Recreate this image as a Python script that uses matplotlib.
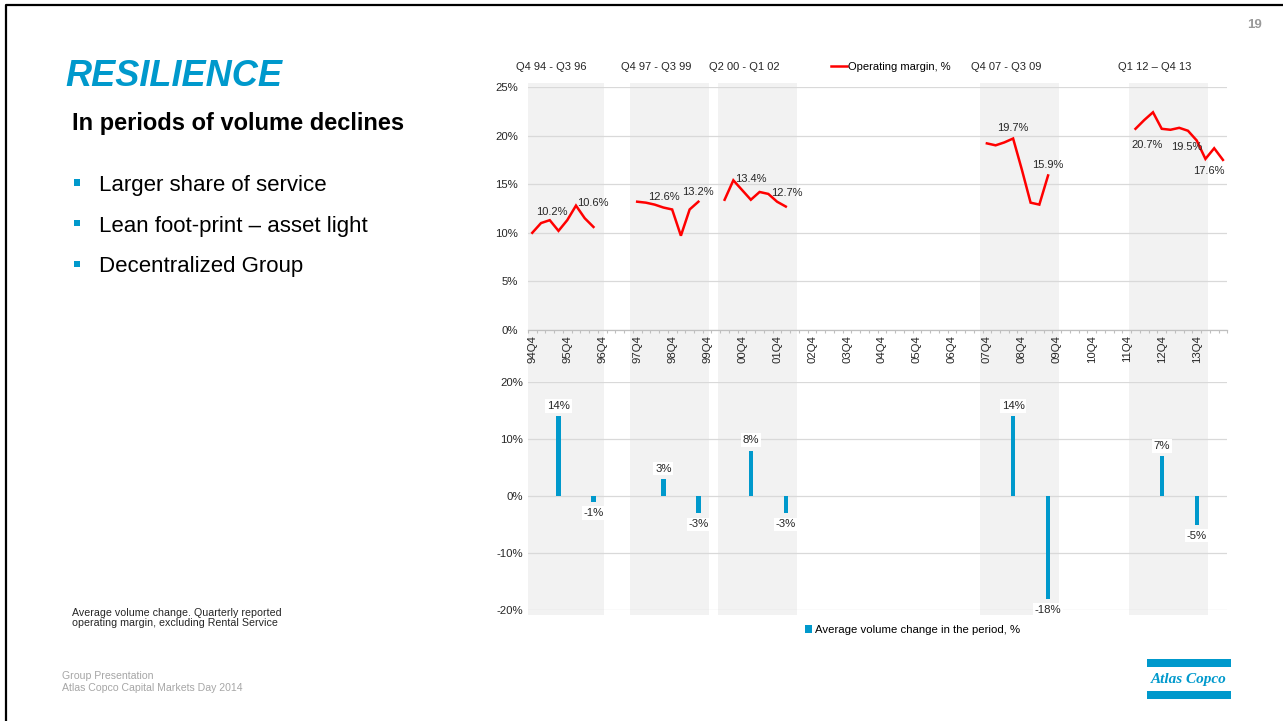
import numpy as np
import matplotlib
matplotlib.use("Agg")
import matplotlib.pyplot as plt
import matplotlib.transforms as mtransforms
from matplotlib.patches import Rectangle
from matplotlib.lines import Line2D

plt.rcParams["font.family"] = ["Liberation Sans", "DejaVu Sans"]

BLUE = "#0099CC"
RED = "#FF0000"
GRID = "#D9D9D9"
SHADE = "#F2F2F2"
TEXT = "#262626"

# quarters on the category axis: 94Q4 ... 14Q3
years = ["94", "95", "96", "97", "98", "99", "00", "01", "02", "03",
         "04", "05", "06", "07", "08", "09", "10", "11", "12", "13", "14"]
quarters = [f"{y}Q{q}" for y in years for q in (1, 2, 3, 4)][3:-1]

# periods of volume decline
periods = ["Q4 94 - Q3 96", "Q4 97 - Q3 99", "Q2 00 - Q1 02", "Q4 07 - Q3 09", "Q1 12 \u2013 Q4 13"]
period_start = ["94Q4", "97Q4", "00Q2", "07Q4", "12Q1"]

# quarterly operating margin, % (each series starts at its period start)
margin_94_96 = [10.0, 11.0, 11.3, 10.2, 11.3, 12.8, 11.5, 10.6]
margin_97_99 = [13.2, 13.1, 12.9, 12.6, 12.4, 9.7, 12.4, 13.2]
margin_00_02 = [13.4, 15.4, 14.4, 13.4, 14.2, 14.0, 13.2, 12.7]
margin_07_09 = [19.2, 19.0, 19.3, 19.7, 16.5, 13.1, 12.9, 15.9]
margin_12_14 = [20.7, 21.6, 22.4, 20.7, 20.6, 20.8, 20.5, 19.5, 17.6, 18.7, 17.5]
margins = [margin_94_96, margin_97_99, margin_00_02, margin_07_09, margin_12_14]

# labelled margin points: (series, point, dx px, dy px)
margin_labels = [(0, 3, -7, 19), (0, 7, -1, 24),
                 (1, 3, 0, 11), (1, 7, 0, 10),
                 (2, 3, 0, 21), (2, 7, 1, 14),
                 (3, 3, 0, 11), (3, 7, 0, 10),
                 (4, 0, 12, -16), (4, 7, -10, -7), (4, 8, 3, -12)]

# average volume change in the period, %
vol_quarters = ["95Q3", "96Q3", "98Q3", "99Q3", "01Q1", "02Q1", "08Q3", "09Q3", "12Q4", "13Q4"]
vol_values = [14, -1, 3, -3, 8, -3, 14, -18, 7, -5]

W, H = 1283, 721


def fx(px):
    return px / W


def fy(py):
    return 1 - py / H


fig = plt.figure(figsize=(W / 100, H / 100), dpi=100)

x0, x1 = 527.9, 1227.3
aw = (x1 - x0) / W
xlim = (-0.5, len(quarters) - 0.5)

# background shading across both charts
ax_bg = fig.add_axes([fx(x0), fy(615), aw, (615 - 83) / H], zorder=0)
ax_bg.set_xlim(*xlim)
ax_bg.axis("off")
for s in period_start:
    i = quarters.index(s)
    ax_bg.axvspan(i - 0.8, i + 8.25, color=SHADE, lw=0)

# operating margin chart
ax = fig.add_axes([fx(x0), fy(330), aw, 243 / H], zorder=1)
ax.patch.set_alpha(0)
ax.set_xlim(*xlim)
ax.set_ylim(0, 25)
ax.set_yticks(np.arange(0, 26, 5))
ax.set_yticklabels([f"{v}%" for v in range(0, 26, 5)])
ax.grid(axis="y", color=GRID, lw=0.9)
ax.set_axisbelow(True)
for sp in ["top", "right", "left"]:
    ax.spines[sp].set_visible(False)
ax.spines["bottom"].set_color("#BFBFBF")
ax.spines["bottom"].set_linewidth(0.9)
ax.set_xticks(range(0, len(quarters), 4))
ax.set_xticklabels(quarters[0::4], rotation=90)
ax.set_xticks(np.arange(-0.5, len(quarters), 1), minor=True)
ax.tick_params(axis="x", which="major", length=0, pad=3.6, labelsize=8.2, labelcolor=TEXT)
ax.tick_params(axis="x", which="minor", length=2, color="#BFBFBF", width=0.8)
ax.tick_params(axis="y", length=0, pad=7, labelsize=8.2, labelcolor=TEXT)

for k, (s, vals) in enumerate(zip(period_start, margins)):
    xs = quarters.index(s) + np.arange(len(vals))
    ax.plot(xs, vals, color=RED, lw=1.8, solid_joinstyle="miter",
            label="Operating margin, %" if k == 0 else None)

for k, p, dx, dy in margin_labels:
    xs = quarters.index(period_start[k]) + p
    ax.annotate(f"{margins[k][p]:.1f}%", (xs, margins[k][p]),
                xytext=(dx * 0.72, dy * 0.72), textcoords="offset points",
                ha="center", va="center", fontsize=8, color=TEXT)

trans = mtransforms.blended_transform_factory(ax.transData, fig.transFigure)
for name, s in zip(periods, period_start):
    ax.text(quarters.index(s) + 2.2, fy(67), name, transform=trans,
            ha="center", va="center", fontsize=8, color=TEXT)

ax.legend(loc="center left", bbox_to_anchor=(fx(831), fy(67)),
          bbox_transform=fig.transFigure, frameon=False, fontsize=8,
          handlelength=1.45, handletextpad=0.1, borderpad=0, borderaxespad=0)

# volume change chart
axb = fig.add_axes([fx(x0), fy(610), aw, (610 - 382.3) / H], zorder=1)
axb.patch.set_alpha(0)
axb.set_xlim(*xlim)
axb.set_ylim(-20, 20)
axb.set_yticks(np.arange(-20, 21, 10))
axb.set_yticklabels([f"{v}%" for v in range(-20, 21, 10)])
axb.grid(axis="y", color=GRID, lw=0.9)
axb.set_axisbelow(True)
for sp in axb.spines.values():
    sp.set_visible(False)
axb.set_xticks([])
axb.tick_params(axis="y", length=0, pad=3.6, labelsize=8.2, labelcolor=TEXT)

vx = [quarters.index(q) for q in vol_quarters]
axb.bar(vx, vol_values, width=0.5, color=BLUE, label="Average volume change in the period, %")
for x, v in zip(vx, vol_values):
    axb.annotate(f"{v}%", (x, v), xytext=(0, 7.5 if v > 0 else -8),
                 textcoords="offset points", ha="center", va="center",
                 fontsize=8.2, color=TEXT,
                 bbox=dict(boxstyle="square,pad=0.15", fc="white", ec="none"))

axb.legend(loc="center left", bbox_to_anchor=(fx(805), fy(630)),
           bbox_transform=fig.transFigure, frameon=False, fontsize=8.2,
           handlelength=0.65, handleheight=0.65, handletextpad=0.2,
           borderpad=0, borderaxespad=0)

# slide text
fig.text(fx(65), fy(76), "RESILIENCE", color=BLUE, fontsize=26,
         fontweight="bold", fontstyle="italic", ha="left", va="center")
fig.text(fx(72), fy(130), "In periods of volume declines", color="black",
         fontsize=17, fontweight="bold", ha="left", va="baseline")

bullets = ["Larger share of service", "Lean foot-print \u2013 asset light", "Decentralized Group"]
for k, b in enumerate(bullets):
    cy = 182.5 + k * 40.7
    fig.add_artist(Rectangle((fx(73.5), fy(cy + 3.2)), 6.4 / W, 6.4 / H,
                             color=BLUE, lw=0, transform=fig.transFigure))
    fig.text(fx(99), fy(cy + 8.5), b, fontsize=16, color="black",
             ha="left", va="baseline")

fig.text(fx(72.5), fy(612.5), "Average volume change. Quarterly reported",
         fontsize=7.7, color=TEXT, ha="left", va="center")
fig.text(fx(72.5), fy(623.5), "operating margin, excluding Rental Service",
         fontsize=7.7, color=TEXT, ha="left", va="center")
fig.text(fx(62), fy(676), "Group Presentation", fontsize=7.6,
         color="#A6A6A6", ha="left", va="center")
fig.text(fx(62), fy(688), "Atlas Copco Capital Markets Day 2014", fontsize=7.6,
         color="#A6A6A6", ha="left", va="center")

fig.text(fx(1255), fy(25), "19", fontsize=9.5, fontweight="bold",
         color="#999999", ha="center", va="center")

# logo
for top in (659, 691):
    fig.add_artist(Rectangle((fx(1147), fy(top + 8)), 84 / W, 8 / H,
                             color=BLUE, lw=0, transform=fig.transFigure))
fig.text(fx(1189), fy(679), "Atlas Copco", fontsize=11, fontweight="bold",
         fontstyle="italic", family=["Liberation Serif", "DejaVu Serif"],
         color=BLUE, ha="center", va="center")

# slide border
fig.add_artist(Line2D([fx(6), fx(6), fx(W + 5)], [fy(H + 5), fy(5), fy(5)],
                      color="black", lw=1.6, transform=fig.transFigure))

fig.savefig("out.png", dpi=100)
